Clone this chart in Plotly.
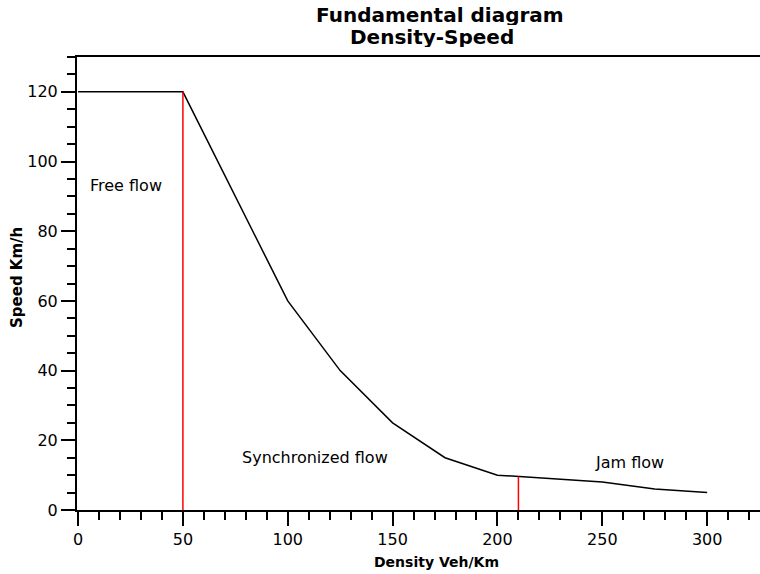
import plotly.graph_objects as go

# Data
density = [0, 50, 100, 125, 150, 175, 200, 250, 275, 300]
speed = [120, 120, 60, 40, 25, 15, 10, 8, 6, 5]

boundary_x = [50, 210]
boundary_top = [120, 9.6]

region_labels = ["Free flow", "Synchronized flow", "Jam flow"]
region_x = [23, 113, 263]
region_y = [93, 15.2, 13.5]

title_lines = ["Fundamental diagram", "Density-Speed"]

FONT = "DejaVu Sans, Verdana, sans-serif"

FW, FH = 760, 574
# plot area in pixels
L, R, T, B = 77, 760, 57, 510
W, H = R - L, B - T


def px_x(p):
    return (p - L) / W


def px_y(p):
    return (B - p) / H


fig = go.Figure()

fig.add_trace(go.Scatter(
    x=density, y=speed, mode="lines",
    line=dict(color="black", width=1.5),
    showlegend=False, hoverinfo="x+y",
))

for bx, bt in zip(boundary_x, boundary_top):
    fig.add_trace(go.Scatter(
        x=[bx, bx], y=[0, bt], mode="lines",
        line=dict(color="#ff0000", width=1.5),
        showlegend=False, hoverinfo="skip",
    ))

for t, x, y in zip(region_labels, region_x, region_y):
    fig.add_annotation(x=x, y=y, text=t, showarrow=False,
                       font=dict(family=FONT, size=16, color="black"),
                       xanchor="center", yanchor="middle")

# title (two lines)
for t, cx, cy in zip(title_lines, [440, 432], [15.0, 36.5]):
    fig.add_annotation(x=px_x(cx), y=px_y(cy), xref="paper", yref="paper",
                       text=f"<b>{t}</b>", showarrow=False, height=21,
                       font=dict(family=FONT, size=20, color="black"),
                       xanchor="center", yanchor="middle")

# axis titles
fig.add_annotation(x=px_x(436), y=px_y(562), xref="paper", yref="paper",
                   text="<b>Density Veh/Km</b>", showarrow=False,
                   font=dict(family=FONT, size=14, color="black"),
                   xanchor="center", yanchor="middle")
fig.add_annotation(x=px_x(17), y=px_y(278), xref="paper", yref="paper",
                   text="<b>Speed Km/h</b>", showarrow=False, textangle=-90,
                   font=dict(family=FONT, size=15, color="black"),
                   xanchor="center", yanchor="middle")

fig.update_layout(
    width=FW, height=FH,
    margin=dict(l=L, r=FW - R, t=T, b=FH - B, autoexpand=False),
    paper_bgcolor="white", plot_bgcolor="white",
    font=dict(family=FONT, size=16, color="black"),
    xaxis=dict(
        range=[-0.5, 325.2], showgrid=False, zeroline=False, automargin=False,
        showline=True, linecolor="black", linewidth=2, mirror=True,
        ticks="outside", ticklen=14, tickwidth=2, tickcolor="black",
        tick0=0, dtick=50,
        minor=dict(ticks="outside", ticklen=8, tickwidth=2, tickcolor="black", dtick=10, showgrid=False),
        tickfont=dict(family=FONT, size=16),
    ),
    yaxis=dict(
        range=[0, 130], showgrid=False, zeroline=False, automargin=False,
        showline=True, linecolor="black", linewidth=2, mirror=False,
        ticks="outside", ticklen=14, tickwidth=2, tickcolor="black",
        tick0=0, dtick=20,
        minor=dict(ticks="outside", ticklen=8, tickwidth=2, tickcolor="black", dtick=5, showgrid=False),
        tickfont=dict(family=FONT, size=16),
    ),
)

# remove the default page margin so the figure fills the window exactly
fig.write_html("out.html", config={"displayModeBar": False},
               post_script="document.body.style.margin='0';")
